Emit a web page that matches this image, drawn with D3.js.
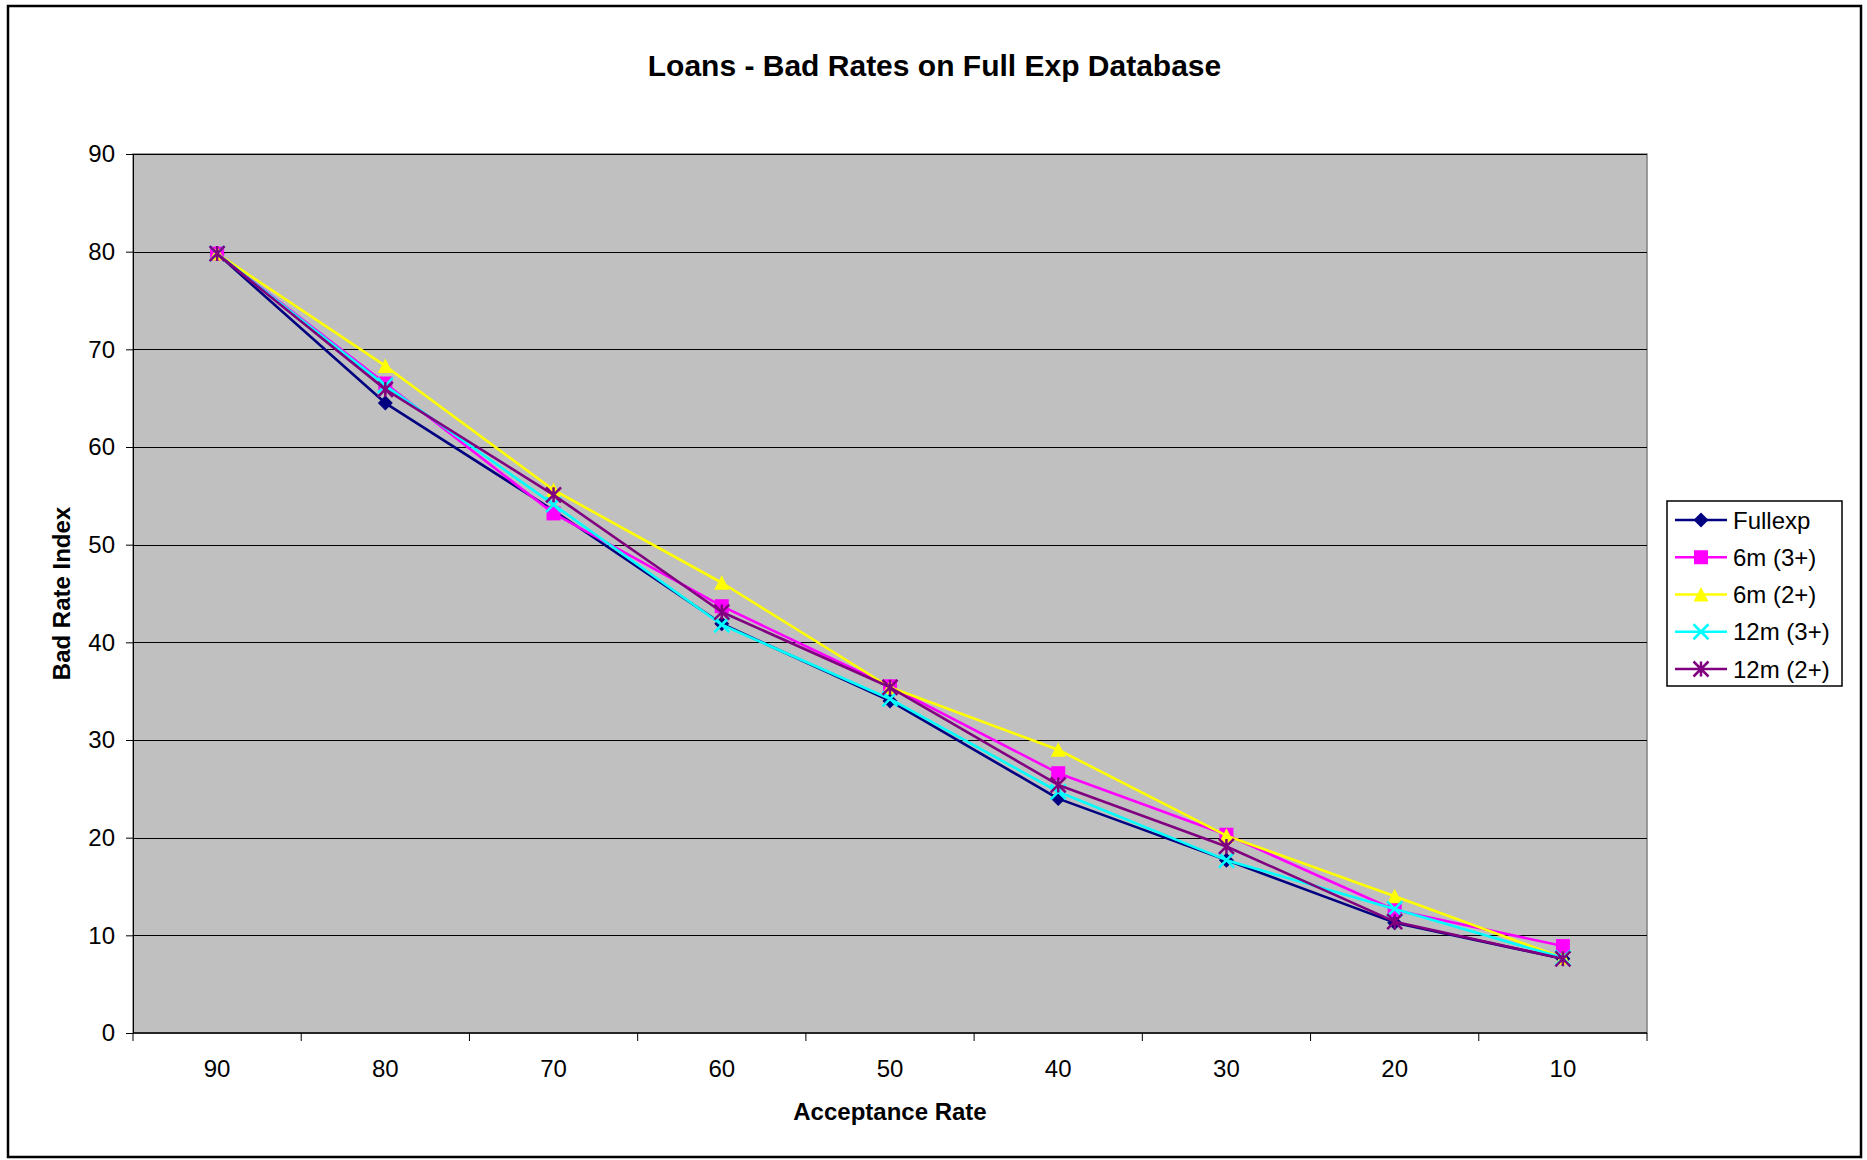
<!DOCTYPE html>
<html>
<head>
<meta charset="utf-8">
<script src="https://cdn.jsdelivr.net/npm/d3@7"></script>
<style>
  html, body { margin: 0; padding: 0; background: #fff; }
  svg { display: block; font-family: Arial, "Liberation Sans", sans-serif; }
</style>
</head>
<body>
<svg id="chart" width="1867" height="1160"></svg>
<script>
// Acceptance rate categories (x axis, descending)
const categories = ["90", "80", "70", "60", "50", "40", "30", "20", "10"];

// Bad rate index per acceptance rate, one array per scoring variant
const fullexp = [79.8, 64.5, 53.5, 41.9, 34.0, 24.0, 17.7, 11.3, 7.6];
const sixM3   = [79.8, 66.5, 53.2, 43.7, 35.5, 26.6, 20.3, 12.6, 8.9];
const sixM2   = [79.8, 68.3, 55.6, 46.1, 35.4, 29.0, 20.2, 14.0, 7.7];
const twelveM3 = [79.8, 66.3, 54.1, 41.8, 34.2, 24.7, 17.7, 12.7, 7.7];
const twelveM2 = [79.8, 65.9, 55.1, 43.1, 35.4, 25.4, 19.1, 11.4, 7.6];

const seriesNames = ["Fullexp", "6m (3+)", "6m (2+)", "12m (3+)", "12m (2+)"];
const yTicks = [0, 10, 20, 30, 40, 50, 60, 70, 80, 90];

const series = [
  { name: seriesNames[0], values: fullexp,  color: "#000080", marker: "diamond" },
  { name: seriesNames[1], values: sixM3,    color: "#FF00FF", marker: "square" },
  { name: seriesNames[2], values: sixM2,    color: "#FFFF00", marker: "triangle" },
  { name: seriesNames[3], values: twelveM3, color: "#00FFFF", marker: "cross" },
  { name: seriesNames[4], values: twelveM2, color: "#800080", marker: "star" }
];

const svg = d3.select("#chart");

// outer frame
svg.append("rect")
  .attr("x", 8).attr("y", 6).attr("width", 1853).attr("height", 1151)
  .attr("fill", "#fff").attr("stroke", "#000").attr("stroke-width", 2.5);

const plot = { left: 133, right: 1647, top: 154, bottom: 1033 };

const x = d3.scaleBand().domain(categories).range([plot.left, plot.right]).padding(0);
const y = d3.scaleLinear().domain([0, 90]).range([plot.bottom, plot.top]);

// plot background
svg.append("rect")
  .attr("x", plot.left).attr("y", plot.top)
  .attr("width", plot.right - plot.left).attr("height", plot.bottom - plot.top)
  .attr("fill", "#C0C0C0").attr("stroke", "#808080").attr("stroke-width", 1.5);

// horizontal gridlines
svg.append("g").selectAll("line")
  .data(yTicks.filter(d => d > 0))
  .join("line")
  .attr("x1", plot.left).attr("x2", plot.right)
  .attr("y1", d => Math.round(y(d)) + 0.5).attr("y2", d => Math.round(y(d)) + 0.5)
  .attr("stroke", "#000").attr("stroke-width", 1);

// y axis
const yAxis = svg.append("g")
  .attr("transform", `translate(${plot.left},0)`)
  .call(d3.axisLeft(y).tickValues(yTicks).tickSize(7).tickPadding(11).tickFormat(d3.format("d")));
yAxis.select(".domain").attr("stroke", "#000").attr("stroke-width", 1);
yAxis.selectAll(".tick line").attr("stroke", "#000");
yAxis.selectAll("text").attr("font-size", 24).attr("fill", "#000")
  .attr("font-family", "Arial, 'Liberation Sans', sans-serif");

// x axis: ticks at category boundaries, labels at centers
const xAxis = svg.append("g").attr("transform", `translate(0,${plot.bottom})`);
xAxis.append("line")
  .attr("x1", plot.left).attr("x2", plot.right).attr("y1", 0).attr("y2", 0)
  .attr("stroke", "#000").attr("stroke-width", 1.5);
const boundaries = categories.map(c => x(c)).concat([x(categories[categories.length - 1]) + x.bandwidth()]);
xAxis.selectAll("line.tk").data(boundaries).join("line")
  .attr("class", "tk")
  .attr("x1", d => d).attr("x2", d => d).attr("y1", 0).attr("y2", 8)
  .attr("stroke", "#000").attr("stroke-width", 1);
xAxis.selectAll("text").data(categories).join("text")
  .attr("x", d => x(d) + x.bandwidth() / 2)
  .attr("y", 44)
  .attr("text-anchor", "middle")
  .attr("font-size", 24)
  .text(d => d);

// titles
svg.append("text")
  .attr("x", 934.5).attr("y", 76)
  .attr("text-anchor", "middle")
  .attr("font-size", 30).attr("font-weight", "bold")
  .text("Loans - Bad Rates on Full Exp Database");

svg.append("text")
  .attr("x", (plot.left + plot.right) / 2).attr("y", 1120)
  .attr("text-anchor", "middle")
  .attr("font-size", 24).attr("font-weight", "bold")
  .text("Acceptance Rate");

svg.append("text")
  .attr("transform", `translate(70,${(plot.top + plot.bottom) / 2}) rotate(-90)`)
  .attr("text-anchor", "middle")
  .attr("font-size", 24).attr("font-weight", "bold")
  .text("Bad Rate Index");

// marker drawing
function drawMarker(g, type, color) {
  const s = 7.5;
  if (type === "diamond") {
    g.append("path").attr("d", `M0,${-s}L${s},0L0,${s}L${-s},0Z`).attr("fill", color);
  } else if (type === "square") {
    g.append("rect").attr("x", -7).attr("y", -7).attr("width", 14).attr("height", 14).attr("fill", color);
  } else if (type === "triangle") {
    g.append("path").attr("d", `M0,${-s}L${s},${s - 0.5}L${-s},${s - 0.5}Z`).attr("fill", color);
  } else if (type === "cross") {
    g.append("path").attr("d", `M${-s},${-s}L${s},${s}M${-s},${s}L${s},${-s}`)
      .attr("stroke", color).attr("stroke-width", 2.5).attr("fill", "none");
  } else if (type === "star") {
    g.append("path").attr("d", `M${-s},${-s}L${s},${s}M${-s},${s}L${s},${-s}M0,${-s}L0,${s}`)
      .attr("stroke", color).attr("stroke-width", 2.5).attr("fill", "none");
  }
}

const line = d3.line()
  .x((d, i) => x(categories[i]) + x.bandwidth() / 2)
  .y(d => y(d));

series.forEach(s => {
  const g = svg.append("g");
  g.append("path")
    .attr("d", line(s.values))
    .attr("fill", "none")
    .attr("stroke", s.color)
    .attr("stroke-width", 2.6)
    .attr("stroke-linejoin", "round");
  s.values.forEach((v, i) => {
    const m = g.append("g")
      .attr("transform", `translate(${x(categories[i]) + x.bandwidth() / 2},${y(v)})`);
    drawMarker(m, s.marker, s.color);
  });
});

// legend
const legend = svg.append("g");
legend.append("rect")
  .attr("x", 1667).attr("y", 501).attr("width", 175).attr("height", 185)
  .attr("fill", "#fff").attr("stroke", "#000").attr("stroke-width", 1.5);
const rowY = d3.scaleLinear().domain([0, 4]).range([520, 669]);
series.forEach((s, i) => {
  const cy = rowY(i);
  const row = legend.append("g");
  row.append("line")
    .attr("x1", 1675).attr("x2", 1727).attr("y1", cy).attr("y2", cy)
    .attr("stroke", s.color).attr("stroke-width", 2.6);
  const m = row.append("g").attr("transform", `translate(1701,${cy})`);
  drawMarker(m, s.marker, s.color);
  row.append("text")
    .attr("x", 1733).attr("y", cy + 8.5)
    .attr("font-size", 24)
    .text(s.name);
});
</script>
</body>
</html>
